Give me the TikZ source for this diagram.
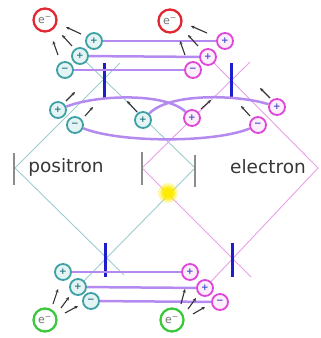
\documentclass[tikz,border=0pt]{standalone}
\usepackage{fontspec}
\setmainfont{DejaVu Sans}
\usetikzlibrary{arrows.meta,backgrounds}

\definecolor{tealline}{RGB}{155,205,205}
\definecolor{pinkline}{RGB}{232,160,235}
\definecolor{bondcol}{RGB}{180,138,240}
\definecolor{barblue}{RGB}{30,30,205}
\definecolor{tealring}{RGB}{60,160,165}
\definecolor{tealfill}{RGB}{228,244,244}
\definecolor{tealsym}{RGB}{40,120,130}
\definecolor{pinkring}{RGB}{222,70,215}
\definecolor{pinkfill}{RGB}{252,238,252}
\definecolor{pinksym}{RGB}{70,80,200}
\definecolor{redring}{RGB}{225,40,50}
\definecolor{greenring}{RGB}{60,200,60}
\definecolor{labcol}{RGB}{55,55,55}
\definecolor{flashcol}{RGB}{255,235,0}

\begin{document}
\begin{tikzpicture}[x=1pt,y=-1pt,
  worldT/.style={draw=tealline, line width=0.9pt},
  worldP/.style={draw=pinkline, line width=0.9pt},
  bond/.style={draw=bondcol, line width=2.5pt},
  blueb/.style={draw=barblue, line width=3pt},
  grayb/.style={draw=black!45, line width=1.8pt},
  charge/.style={circle, line width=1.8pt, minimum size=16pt, inner sep=0pt,
    font=\fontsize{9}{9}\selectfont\bfseries},
  tq/.style={charge, draw=tealring, fill=tealfill, text=tealsym},
  pq/.style={charge, draw=pinkring, fill=pinkfill, text=pinksym},
  elec/.style={circle, line width=2.3pt, minimum size=23pt, inner sep=0pt,
    fill=white, text=black!55, font=\fontsize{11}{11}\selectfont},
  flow/.style={-{Stealth[length=3.5pt,width=3.2pt]}, line width=1.1pt, draw=black!80},
  lab/.style={text=labcol, font=\fontsize{18.5}{20}\selectfont, inner sep=0pt}
]
\useasboundingbox (0,0) rectangle (321,338);

% diamond vertices and free line ends
\coordinate (tL) at (15,168);  \coordinate (tR) at (195,168);
\coordinate (pL) at (142,168); \coordinate (pR) at (318,168);
\coordinate (tTop) at (120,63); \coordinate (tBot) at (124,275);
\coordinate (pTop) at (250,62); \coordinate (pBot) at (251,277);

% charges, top row
\node[tq] (t1) at (94,41) {+};
\node[tq] (t2) at (80,56) {+};
\node[tq] (t3) at (65,70) {−};
\node[pq] (p1) at (225,41) {+};
\node[pq] (p2) at (208,57) {+};
\node[pq] (p3) at (193,70) {−};
% charges, middle row
\node[tq] (m1) at (58,110) {+};
\node[tq] (m2) at (75,125) {−};
\node[tq] (m3) at (143,120) {+};
\node[pq] (n1) at (192,118) {+};
\node[pq] (n2) at (258,125) {−};
\node[pq] (n3) at (277,107) {+};
% charges, bottom row
\node[tq] (b1) at (63,272) {+};
\node[tq] (b2) at (78,287) {+};
\node[tq] (b3) at (91,301) {−};
\node[pq] (q1) at (190,272) {+};
\node[pq] (q2) at (205,288) {+};
\node[pq] (q3) at (220,302) {−};
% electrons
\node[elec, draw=redring] (eTL) at (45,20) {e\textsuperscript{−}};
\node[elec, draw=redring] (eTR) at (170,21) {e\textsuperscript{−}};
\node[elec, draw=greenring] (eBL) at (45,320) {e\textsuperscript{−}};
\node[elec, draw=greenring] (eBR) at (172,320) {e\textsuperscript{−}};

% labels
\node[lab] (pos) at (66,167) {positron};
\node[lab] (ele) at (268,167) {electron};

% arrows
\foreach \n/\sx/\sy/\ex/\ey in {
  a1/81/34/66/27, a2/72/46/62/35, a3/58/55/53/41,
  a4/207/33/191/26, a5/198/46/188/35, a6/185/55/180/41,
  a7/66/101/75/92, a8/85/116/93/107, a9/137/112/127/101,
  a10/201/109/211/100, a11/250/116/241/106, a12/270/98/260/88,
  a13/53/304/58/289, a14/61/308/69/297, a15/65/313/78/306,
  a16/181/304/185/289, a17/188/309/196/298, a18/193/314/205/307}{
  \coordinate (\n s) at (\sx,\sy);
  \coordinate (\n e) at (\ex,\ey);
  \draw[flow] (\n s) -- (\n e);
}

\begin{pgfonlayer}{background}
  % world lines
  \draw[worldT] (tTop) -- (tL) -- (tBot);
  \draw[worldT] (t2.center) -- (tR) -- (b2.center);
  \draw[worldP] (pTop) -- (pL) -- (pBot);
  \draw[worldP] (p2.center) -- (pR) -- (q2.center);
  % vertex bars
  \draw[grayb] (14,153) -- (14,185);
  \draw[grayb] (142,152) -- (142,185);
  \draw[grayb] (195,155) -- (195,187);
  % crossing bars
  \draw[blueb] (104,63) -- (104,98);
  \draw[blueb] (231,63) -- (231,97);
  \draw[blueb] (105,243) -- (105,277);
  \draw[blueb] (232,243) -- (232,277);
  % bonds
  \draw[bond] (t1) -- (p1);
  \draw[bond] (t2) -- (p2);
  \draw[bond] (t3) -- (p3);
  \draw[bond] (b1) -- (q1);
  \draw[bond] (b2) -- (q2);
  \draw[bond] (b3) -- (q3);
  \draw[bond] (m1) .. controls (95,95) and (165,92) .. (n1);
  \draw[bond] (m3) .. controls (170,92) and (240,95) .. (n3);
  \draw[bond] (m2) .. controls (120,143) and (215,143) .. (n2);
  % flash
  \fill[flashcol, opacity=0.35] (168,193) circle (10);
  \fill[flashcol, opacity=0.6] (168,193) circle (7.5);
  \fill[flashcol] (168,193) circle (5.5);
\end{pgfonlayer}
\end{tikzpicture}
\end{document}
